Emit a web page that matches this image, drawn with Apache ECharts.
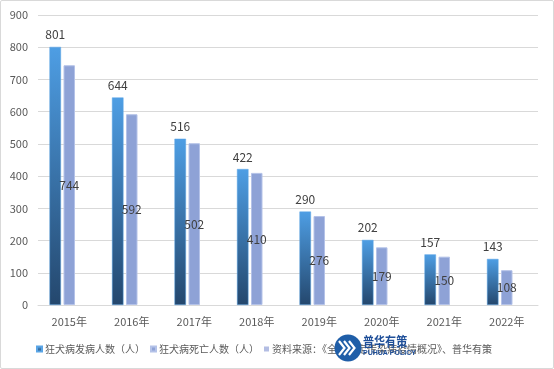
<!DOCTYPE html>
<html><head><meta charset="utf-8">
<script src="https://cdn.jsdelivr.net/npm/echarts@6/dist/echarts.min.js"></script>
<style>html,body{margin:0;padding:0;background:#fff}#c{width:552px;height:367px;border:1px solid #d9d9d9;border-radius:2px}</style>
</head><body><div id="c"></div>
<script>
const categories = ['2015年','2016年','2017年','2018年','2019年','2020年','2021年','2022年'];
const incidence = [801,644,516,422,290,202,157,143];
const deaths = [744,592,502,410,276,179,150,108];
const sourceNote = [];
const seriesNames = ['狂犬病发病人数（人）','狂犬病死亡人数（人）','资料来源：《全国法定传染病疫情概况》、普华有策'];
const yTicks = {min:0, max:900, interval:100};

const chart = echarts.init(document.getElementById('c'));
const font = "'Microsoft YaHei','Noto Sans CJK SC',sans-serif";
const chevrons = [0,1,2].map(i => ({
  type:'polyline', z:101,
  shape:{points:[[338+i*5,340],[343.5+i*5,347],[338+i*5,354]]},
  style:{stroke:'#fff', lineWidth:2.2, fill:null}
}));
chart.setOption({
  animation:false,
  textStyle:{fontFamily:font},
  grid:{left:37, right:15, top:14, bottom:63, containLabel:false},
  legend:{
    top:343, left:35, padding:0, itemWidth:5, itemHeight:5, itemGap:5,
    icon:'rect',
    textStyle:{fontSize:10, color:'#595959', fontFamily:font, padding:[0,0,0,-2]},
    data:seriesNames
  },
  xAxis:{
    type:'category', data:categories,
    axisLine:{lineStyle:{color:'#d9d9d9'}},
    axisTick:{show:false},
    axisLabel:{color:'#595959', fontSize:11, margin:11, fontFamily:font}
  },
  yAxis:{
    type:'value', min:yTicks.min, max:yTicks.max, interval:yTicks.interval,
    axisLine:{show:false}, axisTick:{show:false},
    axisLabel:{color:'#595959', fontSize:11, margin:10, fontFamily:font},
    splitLine:{lineStyle:{color:'#d9d9d9'}}
  },
  series:[
    {
      name:seriesNames[0], type:'bar', data:incidence, barWidth:11.5, barGap:'22%',
      itemStyle:{color:new echarts.graphic.LinearGradient(0,0,0,1,[{offset:0,color:'#4e9ee4'},{offset:1,color:'#24476d'}]), borderColor:'#5aa5e6', borderWidth:0.5},
      label:{show:true, position:'top', distance:6, color:'#404040', fontSize:12, fontFamily:font}
    },
    {
      name:seriesNames[1], type:'bar', data:deaths, barWidth:11.5, barGap:'22%',
      itemStyle:{color:'#8ea2d6', borderColor:'#b4c2e8', borderWidth:1},
      label:{show:true, position:'inside', color:'#404040', fontSize:12, fontFamily:font}
    },
    {
      name:seriesNames[2], type:'bar', data:sourceNote, barWidth:11.5, barGap:'22%',
      itemStyle:{color:'#b3bde3'}
    }
  ],
  graphic:[
    {type:'circle', shape:{cx:347, cy:347, r:13.5}, style:{fill:'#1f5ea8'}, z:100},
    ...chevrons,
    {type:'text', x:362, y:334, scaleX:0.85, style:{text:'普华有策', fill:'#1f4f99', fontSize:13, fontWeight:'bold', fontFamily:font}, z:100},
    {type:'text', x:362, y:349, style:{text:'PUHUA POLICY', fill:'#1f4f99', fontSize:7, fontWeight:'bold'}, z:100}
  ]
});
</script></body></html>
